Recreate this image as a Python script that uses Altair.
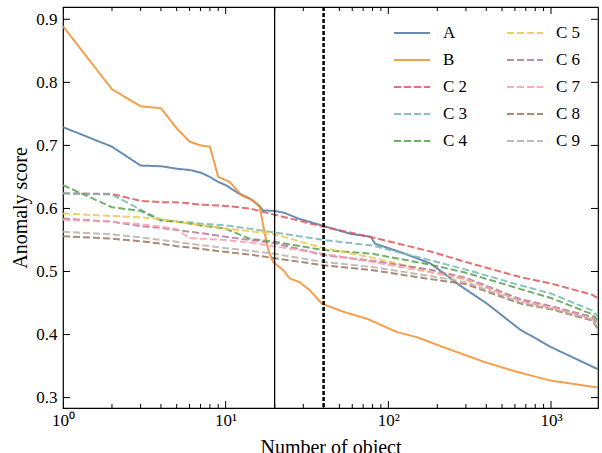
import altair as alt
import pandas as pd

# ---------------- data ----------------
A_n = [1, 2, 3, 4, 5, 6, 7, 8, 9, 10, 12, 14, 16, 17, 20, 23, 28, 39, 58, 78, 83, 118, 181, 275, 404, 645, 1000, 1945]
A_v = [0.729, 0.698, 0.668, 0.667, 0.663, 0.661, 0.657, 0.650, 0.642, 0.637, 0.624, 0.616, 0.605, 0.597, 0.596,
       0.593, 0.584, 0.573, 0.560, 0.555, 0.544, 0.531, 0.513, 0.478, 0.449, 0.408, 0.380, 0.345]

B_n = [1, 2, 3, 4, 5, 6, 7, 8, 9, 10.6, 12.5, 14.7, 16.2, 17.4, 18.3, 19.6, 22.6, 24.8, 28.5, 33, 39, 53, 74,
       113, 149, 218, 384, 613, 993, 1945]
B_v = [0.889, 0.789, 0.762, 0.759, 0.727, 0.706, 0.700, 0.698, 0.650, 0.642, 0.621, 0.613, 0.602, 0.560, 0.534,
       0.515, 0.502, 0.489, 0.483, 0.470, 0.449, 0.436, 0.425, 0.404, 0.396, 0.380, 0.357, 0.341, 0.327, 0.316]

C_n = [1, 2, 3, 4, 5, 6, 7, 10, 14, 20, 40, 80, 180, 300, 650, 1000, 1800, 1945]
C2_v = [0.624, 0.623, 0.612, 0.610, 0.610, 0.608, 0.606, 0.604, 0.600, 0.590, 0.571, 0.554, 0.532, 0.515, 0.491, 0.481, 0.463, 0.457]
C3_v = [0.624, 0.622, 0.598, 0.582, 0.579, 0.578, 0.576, 0.573, 0.568, 0.562, 0.550, 0.541, 0.518, 0.503, 0.478, 0.465, 0.438, 0.428]
C4_v = [0.637, 0.602, 0.596, 0.581, 0.579, 0.576, 0.573, 0.568, 0.552, 0.547, 0.534, 0.528, 0.511, 0.498, 0.472, 0.458, 0.432, 0.422]
C5_v = [0.592, 0.588, 0.586, 0.583, 0.579, 0.576, 0.574, 0.568, 0.564, 0.559, 0.537, 0.522, 0.500, 0.487, 0.454, 0.443, 0.426, 0.413]
C6_v = [0.584, 0.579, 0.572, 0.569, 0.566, 0.563, 0.561, 0.555, 0.550, 0.545, 0.526, 0.517, 0.503, 0.490, 0.456, 0.445, 0.428, 0.416]
C7_v = [0.582, 0.579, 0.575, 0.571, 0.567, 0.553, 0.552, 0.550, 0.546, 0.540, 0.528, 0.515, 0.499, 0.488, 0.453, 0.443, 0.425, 0.412]
C8_v = [0.556, 0.552, 0.548, 0.544, 0.540, 0.538, 0.536, 0.531, 0.527, 0.521, 0.510, 0.502, 0.488, 0.480, 0.449, 0.440, 0.422, 0.408]
C9_v = [0.563, 0.559, 0.554, 0.550, 0.547, 0.544, 0.542, 0.537, 0.533, 0.528, 0.515, 0.507, 0.493, 0.483, 0.451, 0.441, 0.424, 0.410]

vline_solid = [20]
vline_dashed = [40]

x_lo, x_hi = 1, 1945
y_lo, y_hi = 0.2835, 0.9195
x_major = [1, 10, 100, 1000]
x_minor = [2, 3, 4, 5, 6, 7, 8, 9, 20, 30, 40, 50, 60, 70, 80, 90, 200, 300, 400, 500, 600, 700, 800, 900]
y_ticks = [0.3, 0.4, 0.5, 0.6, 0.7, 0.8, 0.9]

series_names = ["A", "B", "C 2", "C 3", "C 4", "C 5", "C 6", "C 7", "C 8", "C 9"]
series_colors = ["#4e79a7", "#f28e2b", "#e15759", "#76b7b2", "#59a14f", "#edc948", "#b07aa1", "#ff9da7", "#9c755f", "#bab0ac"]

# ---------------- build table ----------------
rows = []
for name, ns, vs in [("A", A_n, A_v), ("B", B_n, B_v),
                     ("C 2", C_n, C2_v), ("C 3", C_n, C3_v), ("C 4", C_n, C4_v),
                     ("C 5", C_n, C5_v), ("C 6", C_n, C6_v), ("C 7", C_n, C7_v),
                     ("C 8", C_n, C8_v), ("C 9", C_n, C9_v)]:
    for n, v in zip(ns, vs):
        rows.append({"series": name, "n": n, "v": v})
df = pd.DataFrame(rows)

series_dashes = [[1, 0] if s in ("A", "B") else [7, 3] for s in series_names]

W, H = 535, 401
FONT = "Liberation Serif"

x_scale = alt.Scale(type="log", domain=[x_lo, x_hi], nice=False)
y_scale = alt.Scale(domain=[y_lo, y_hi], nice=False, zero=False)

sup = "['\u2070','\u00b9','\u00b2','\u00b3']"
x_axis = alt.Axis(title="Number of object", values=x_major, ticks=False, domain=False, grid=False,
                  labelExpr="'10' + " + sup + "[round(log(datum.value)/LN10)]",
                  labelFontSize=17, labelPadding=4, titleFontSize=20, titleFontWeight="normal",
                  titlePadding=9, labelFlush=False, labelColor="black", titleColor="black")
y_axis = alt.Axis(title="Anomaly score", values=y_ticks, format=".1f", ticks=False, domain=False,
                  grid=False, labelFontSize=17, labelPadding=6, titleFontSize=20,
                  titleFontWeight="normal", titlePadding=5, labelColor="black", titleColor="black")

legend = alt.Legend(
    title=None, orient="none", legendX=330, legendY=7, columns=2,
    symbolType="stroke", symbolSize=1296, symbolStrokeWidth=2, labelFontSize=17,
    labelFont=FONT, rowPadding=-3, columnPadding=35, labelOffset=12, labelColor="black",
)

lines = alt.Chart(df).mark_line(strokeWidth=2, opacity=0.85, clip=True).encode(
    x=alt.X("n:Q", scale=x_scale, axis=x_axis),
    y=alt.Y("v:Q", scale=y_scale, axis=y_axis),
    color=alt.Color("series:N", scale=alt.Scale(domain=series_names, range=series_colors), legend=legend),
    strokeDash=alt.StrokeDash("series:N", scale=alt.Scale(domain=series_names, range=series_dashes), legend=legend),
)

vsolid = alt.Chart(pd.DataFrame({"n": vline_solid})).mark_rule(color="black", strokeWidth=1.3).encode(
    x=alt.X("n:Q", scale=x_scale, axis=x_axis),
)
vdash = alt.Chart(pd.DataFrame({"n": vline_dashed})).mark_rule(color="black", strokeWidth=2.5, strokeDash=[4, 2]).encode(
    x=alt.X("n:Q", scale=x_scale, axis=x_axis),
)


# inward tick marks: centred on the frame edge, the outer half is clipped away
def x_ticks(values, edge, length):
    return alt.Chart(pd.DataFrame({"n": values})).mark_tick(
        orient="vertical", size=2 * length, thickness=1, color="black", opacity=1, clip=True
    ).encode(
        x=alt.X("n:Q", scale=x_scale, axis=x_axis),
        y=alt.YDatum(edge, type="quantitative", scale=y_scale, axis=y_axis),
    )


def y_ticks_at(edge, length):
    return alt.Chart(pd.DataFrame({"v": y_ticks})).mark_tick(
        orient="horizontal", size=2 * length, thickness=1, color="black", opacity=1, clip=True
    ).encode(
        y=alt.Y("v:Q", scale=y_scale, axis=y_axis),
        x=alt.XDatum(edge, type="quantitative", scale=x_scale, axis=x_axis),
    )


tick_layers = [
    x_ticks(x_major, y_lo, 7), x_ticks(x_minor, y_lo, 4),
    x_ticks(x_major, y_hi, 7), x_ticks(x_minor, y_hi, 4),
    y_ticks_at(x_lo, 7), y_ticks_at(x_hi, 7),
]

chart = alt.layer(lines, vsolid, vdash, *tick_layers).properties(
    width=W, height=H,
    autosize=alt.AutoSizeParams(type="none"),
    padding={"left": 63, "top": 7, "right": 4, "bottom": 45},
).configure(font=FONT).configure_view(stroke="black", strokeWidth=1.2)

chart.save("out.html", embed_options={"renderer": "svg", "actions": False})
